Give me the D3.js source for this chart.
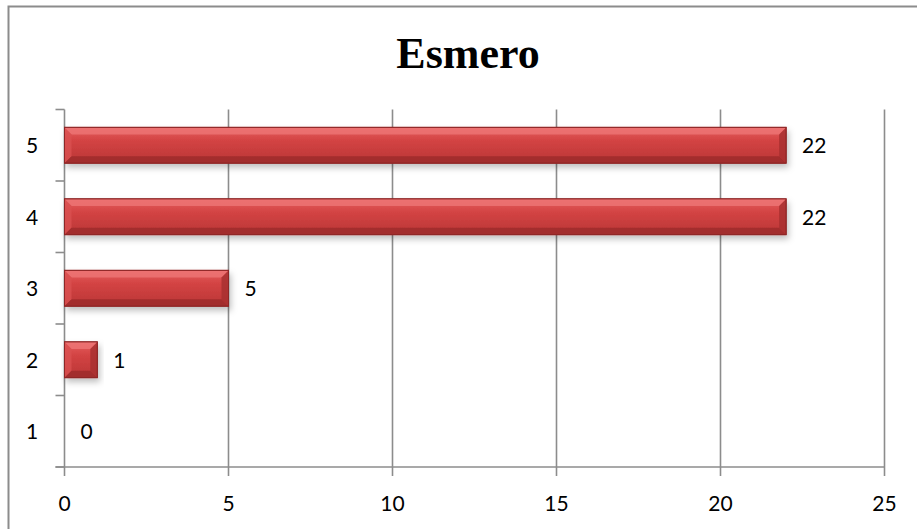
<html>
<head>
<script src="https://d3js.org/d3.v7.min.js"></script>
<style>
  body { margin: 0; background: #fff; }
  text { font-family: Lato, "Open Sans", sans-serif; }
</style>
</head>
<body>
<div id="chart"></div>
<script>
// data
const categories = ["1", "2", "3", "4", "5"];
const values = [0, 1, 5, 22, 22];
const xTicks = [0, 5, 10, 15, 20, 25];
const title = "Esmero";

const W = 917, H = 529;
const svg = d3.select("#chart").append("svg")
  .attr("width", W).attr("height", H);

const defs = svg.append("defs");
const grad = defs.append("linearGradient").attr("id", "barGrad")
  .attr("x1", 0).attr("y1", 0).attr("x2", 0).attr("y2", 1);
grad.append("stop").attr("offset", "0%").attr("stop-color", "#e66262");
grad.append("stop").attr("offset", "35%").attr("stop-color", "#d44444");
grad.append("stop").attr("offset", "100%").attr("stop-color", "#ba3535");

const shadow = defs.append("filter").attr("id", "shadow")
  .attr("x", "-10%").attr("y", "-20%").attr("width", "130%").attr("height", "160%");
shadow.append("feDropShadow").attr("dx", 2).attr("dy", 4).attr("stdDeviation", 3)
  .attr("flood-color", "#000").attr("flood-opacity", 0.25);

// outer chart border (runs off the right and bottom of the page)
svg.append("rect")
  .attr("x", 8.5).attr("y", 6.5).attr("width", 930).attr("height", 540)
  .attr("fill", "none").attr("stroke", "#8c8c8c").attr("stroke-width", 2);

svg.append("text")
  .attr("x", 468).attr("y", 68)
  .attr("text-anchor", "middle")
  .style("font-family", "'Liberation Serif', serif")
  .style("font-weight", "bold")
  .style("font-size", "44px")
  .text(title);

const pLeft = 64.5, pRight = 884.5, pTop = 109.5, pBottom = 467;

const x = d3.scaleLinear().domain([0, 25]).range([pLeft, pRight]);
const y = d3.scaleBand().domain(categories).range([pBottom, pTop])
  .paddingInner(0.5).paddingOuter(0.25);
const yEdges = d3.scaleBand().domain(categories).range([pBottom, pTop]);

const g = svg.append("g");
const fs = "21px";

// vertical gridlines
g.selectAll(".grid").data(xTicks.slice(1)).enter().append("line")
  .attr("x1", d => x(d)).attr("x2", d => x(d))
  .attr("y1", pTop).attr("y2", pBottom)
  .attr("stroke", "#8c8c8c").attr("stroke-width", 1.6);

// y axis line + ticks between categories
g.append("line").attr("x1", pLeft).attr("x2", pLeft).attr("y1", pTop).attr("y2", pBottom)
  .attr("stroke", "#8c8c8c").attr("stroke-width", 1.6);
const yTickPos = categories.map(c => yEdges(c)).concat([pBottom]);
g.selectAll(".yt").data(yTickPos).enter().append("line")
  .attr("x1", pLeft - 9).attr("x2", pLeft).attr("y1", d => d).attr("y2", d => d)
  .attr("stroke", "#8c8c8c").attr("stroke-width", 1.6);

// x axis line + ticks
g.append("line").attr("x1", pLeft - 9).attr("x2", pRight).attr("y1", pBottom).attr("y2", pBottom)
  .attr("stroke", "#8c8c8c").attr("stroke-width", 1.6);
g.selectAll(".xt").data(xTicks).enter().append("line")
  .attr("x1", d => x(d)).attr("x2", d => x(d)).attr("y1", pBottom).attr("y2", pBottom + 9)
  .attr("stroke", "#8c8c8c").attr("stroke-width", 1.6);

g.selectAll(".xl").data(xTicks).enter().append("text")
  .attr("x", d => x(d)).attr("y", 511)
  .attr("text-anchor", "middle").style("font-size", fs)
  .text(d => d);

g.selectAll(".yl").data(categories).enter().append("text")
  .attr("x", 32).attr("y", d => yEdges(d) + yEdges.bandwidth() / 2 + 8)
  .attr("text-anchor", "middle").style("font-size", fs)
  .text(d => d);

// bars with a bevel
const rows = categories.map((c, i) => ({ cat: c, val: values[i] }));
const bars = g.selectAll(".bar").data(rows.filter(d => d.val > 0)).enter().append("g");
const bv = 7;
bars.append("rect")
  .attr("x", d => x(0)).attr("y", d => y(d.cat))
  .attr("width", d => x(d.val) - x(0)).attr("height", y.bandwidth())
  .attr("fill", "url(#barGrad)").attr("stroke", "#8e2626").attr("stroke-width", 1)
  .attr("filter", "url(#shadow)");
// top bevel
bars.append("polygon").attr("points", d => {
  const x0 = x(0), x1 = x(d.val), y0 = y(d.cat);
  const b = Math.min(bv, (x1 - x0) / 2);
  return [[x0, y0], [x1, y0], [x1 - b, y0 + b], [x0 + b, y0 + b]].join(" ");
}).attr("fill", "#ee7676").attr("opacity", 0.8);
// left bevel
bars.append("polygon").attr("points", d => {
  const x0 = x(0), x1 = x(d.val), y0 = y(d.cat), y1 = y0 + y.bandwidth();
  const b = Math.min(bv, (x1 - x0) / 2);
  return [[x0, y0], [x0 + b, y0 + b], [x0 + b, y1 - b], [x0, y1]].join(" ");
}).attr("fill", "#da5050").attr("opacity", 0.8);
// bottom bevel
bars.append("polygon").attr("points", d => {
  const x0 = x(0), x1 = x(d.val), y0 = y(d.cat), y1 = y0 + y.bandwidth();
  const b = Math.min(bv, (x1 - x0) / 2);
  return [[x0, y1], [x0 + b, y1 - b], [x1 - b, y1 - b], [x1, y1]].join(" ");
}).attr("fill", "#9e2b2b").attr("opacity", 0.85);
// right bevel
bars.append("polygon").attr("points", d => {
  const x0 = x(0), x1 = x(d.val), y0 = y(d.cat), y1 = y0 + y.bandwidth();
  const b = Math.min(bv, (x1 - x0) / 2);
  return [[x1, y0], [x1, y1], [x1 - b, y1 - b], [x1 - b, y0 + b]].join(" ");
}).attr("fill", "#a83030").attr("opacity", 0.85);
bars.append("rect")
  .attr("x", d => x(0)).attr("y", d => y(d.cat))
  .attr("width", d => x(d.val) - x(0)).attr("height", y.bandwidth())
  .attr("fill", "none").attr("stroke", "#8e2626").attr("stroke-width", 1);

// value labels
g.selectAll(".vl").data(rows).enter().append("text")
  .attr("x", d => x(d.val) + 16)
  .attr("y", d => y(d.cat) + y.bandwidth() / 2 + 8)
  .style("font-size", fs)
  .text(d => d.val);
</script>
</body>
</html>
